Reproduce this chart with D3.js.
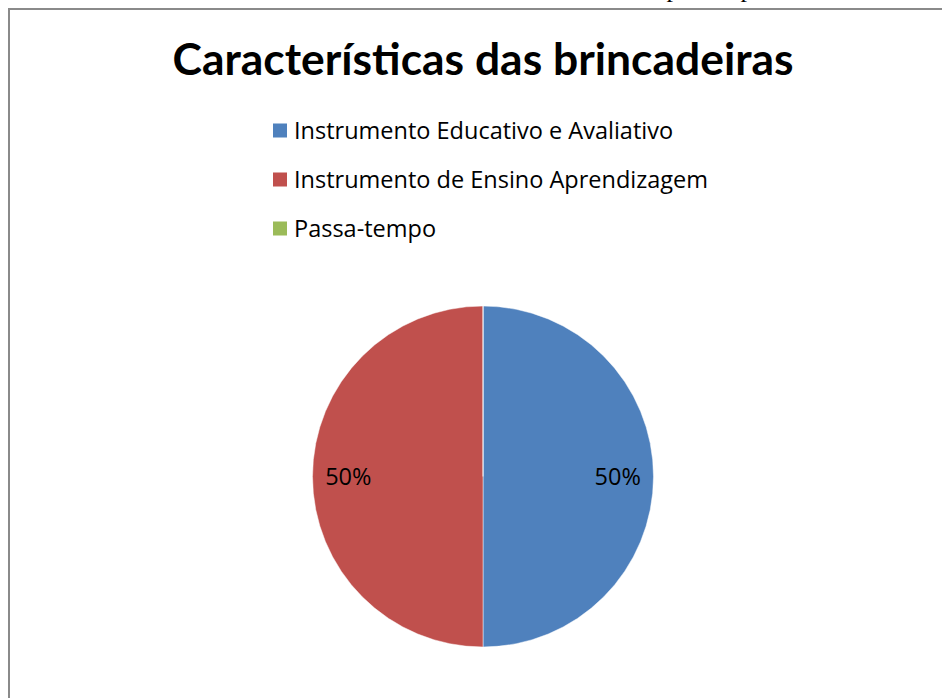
<!DOCTYPE html>
<html>
<head>
<meta charset="utf-8">
<script src="https://cdn.jsdelivr.net/npm/d3@7"></script>
<style>
  body { margin: 0; background: #fff; }
</style>
</head>
<body>
<div id="renderer"></div>
<script>
// chart data
const titleText = "Características das brincadeiras";
const categories = ["Instrumento Educativo e Avaliativo", "Instrumento de Ensino Aprendizagem", "Passa-tempo"];
const values = [50, 50, 0];
const colors = ["#4F81BD", "#C0504D", "#9BBB59"];

const width = 942;
const height = 698;
const font = "Lato, 'Open Sans', sans-serif";
const bodyFont = "'Open Sans', Lato, sans-serif";

const svg = d3.select("#renderer")
    .append("svg")
    .attr("width", width)
    .attr("height", height);

// bits of the page text above the chart (cut off)
svg.selectAll("text.page")
    .data([673, 747])
    .join("text")
    .attr("class", "page")
    .attr("x", d => d)
    .attr("y", -3)
    .attr("text-anchor", "middle")
    .attr("font-family", "'Liberation Serif', serif")
    .attr("font-size", "26px")
    .text("p");

// chart frame
svg.append("rect")
    .attr("x", 9)
    .attr("y", 9)
    .attr("width", width + 20)
    .attr("height", height + 20)
    .attr("fill", "none")
    .attr("stroke", "#8a8a8a")
    .attr("stroke-width", 2);

// title
svg.append("text")
    .attr("x", 483)
    .attr("y", 75)
    .attr("text-anchor", "middle")
    .attr("font-family", font)
    .attr("font-weight", "bold")
    .attr("font-size", "44px")
    .attr("textLength", 621)
    .attr("lengthAdjust", "spacingAndGlyphs")
    .text(titleText);

// legend
const legendY = d3.scaleBand()
    .domain(categories)
    .range([106, 253]);

const legend = svg.append("g");
const items = legend.selectAll("g")
    .data(categories)
    .join("g")
    .attr("transform", d => `translate(273, ${legendY(d) + legendY.bandwidth() / 2})`);

items.append("rect")
    .attr("x", 0)
    .attr("y", -7)
    .attr("width", 14)
    .attr("height", 14)
    .attr("fill", (d, i) => colors[i]);

items.append("text")
    .attr("x", 21)
    .attr("y", 8)
    .attr("font-family", bodyFont)
    .attr("font-size", "23.5px")
    .attr("fill", "#000")
    .text(d => d);

// pie
const cx = 483, cy = 476.5, radius = 170.5;

const pie = d3.pie()
    .sort(null)
    .value(d => d);

const arcs = pie(values);

const arc = d3.arc()
    .innerRadius(0)
    .outerRadius(radius);

const labelArc = d3.arc()
    .innerRadius(radius * 0.79)
    .outerRadius(radius * 0.79);

const pieG = svg.append("g")
    .attr("transform", `translate(${cx}, ${cy})`);

pieG.selectAll("path")
    .data(arcs)
    .join("path")
    .attr("d", arc)
    .attr("fill", (d, i) => colors[i])
    .attr("stroke", "#ffffff")
    .attr("stroke-opacity", 0.6)
    .attr("stroke-width", 0.8);

const total = d3.sum(values);
pieG.selectAll("text")
    .data(arcs.filter(d => d.value > 0))
    .join("text")
    .attr("x", d => labelArc.centroid(d)[0])
    .attr("y", d => labelArc.centroid(d)[1] + 8)
    .attr("text-anchor", "middle")
    .attr("font-family", bodyFont)
    .attr("font-size", "23.5px")
    .attr("fill", "#000")
    .text(d => Math.round(d.value / total * 100) + "%");
</script>
</body>
</html>
